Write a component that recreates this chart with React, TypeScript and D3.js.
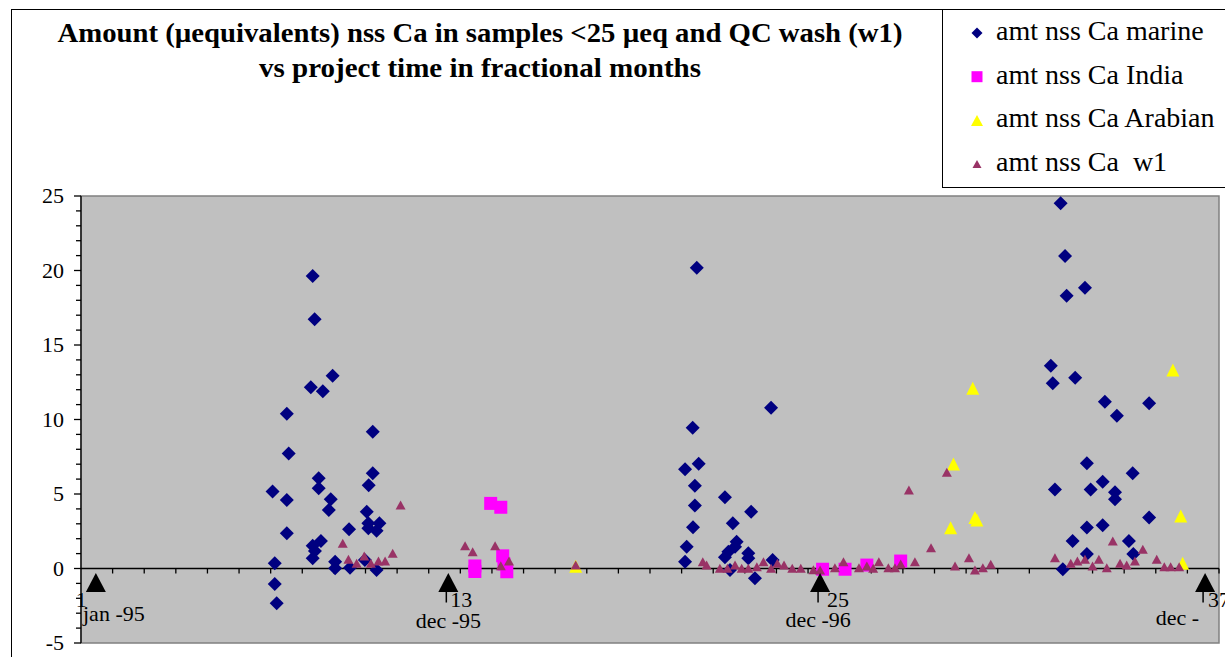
import React from "react";
import * as d3 from "d3";

// ---- data (x = project time in fractional months, y = amount in µeq) ----
const marine: [number, number][] = [
  [7.33, 19.63], [7.39, 16.72], [7.96, 12.94], [7.27, 12.16], [7.65, 11.89], [6.51, 10.39],
  [9.23, 9.18], [6.57, 7.71], [9.23, 6.39], [7.52, 6.05], [9.1, 5.58], [7.52, 5.38],
  [6.06, 5.16], [6.51, 4.6], [7.9, 4.64], [7.84, 3.93], [9.04, 3.81], [8.48, 2.63],
  [6.51, 2.36], [9.09, 3.03], [9.44, 3.03], [9.09, 2.7], [9.35, 2.54], [7.59, 1.85],
  [7.33, 1.53], [7.4, 1.17], [7.33, 0.68], [6.13, 0.35], [8.04, 0.46], [8.04, 0.01],
  [8.51, 0.05], [8.98, 0.57], [9.35, -0.1], [6.13, -1.04], [6.19, -2.34],
  [19.48, 20.19], [21.83, 10.79], [19.35, 9.45], [19.54, 7.03], [19.11, 6.66], [19.42, 5.56],
  [19.42, 4.22], [20.37, 4.78], [21.2, 3.81], [19.36, 2.77], [20.62, 3.03], [20.74, 1.8],
  [20.69, 1.46], [19.16, 1.46], [20.48, 1.13], [21.11, 1.02], [21.11, 0.68], [20.37, 0.75],
  [19.11, 0.46], [21.88, 0.57], [20.53, -0.1], [21.32, -0.66],
  [30.99, 24.51], [31.13, 20.97], [31.76, 18.85], [31.18, 18.31], [30.68, 13.61], [30.74, 12.43],
  [31.45, 12.81], [32.39, 11.19], [33.79, 11.09], [32.77, 10.26], [31.82, 7.06], [33.27, 6.39],
  [32.32, 5.83], [30.81, 5.31], [31.94, 5.31], [32.71, 5.11], [32.71, 4.64], [33.79, 3.43],
  [31.82, 2.76], [32.32, 2.9], [31.37, 1.85], [33.15, 1.85], [31.82, 0.97], [33.29, 0.97],
  [31.06, -0.05],
];

const india: [number, number][] = [
  [12.96, 4.37], [13.28, 4.11], [12.46, 0.17], [12.46, -0.2], [13.34, 0.85], [13.38, 0.3],
  [13.47, -0.21], [23.46, -0.05], [24.17, -0.05], [24.86, 0.23], [25.93, 0.5],
];

const arabian: [number, number][] = [
  [15.65, 0.15], [27.6, 7.01], [27.51, 2.74], [28.28, 3.43], [28.34, 3.26], [28.21, 12.1],
  [34.54, 13.32], [34.79, 3.52], [34.85, 0.35],
];

const w1: [number, number][] = [
  [8.28, 1.69], [8.46, 0.62], [8.72, 0.35], [8.96, 0.84], [9.17, 0.35], [9.41, 0.5],
  [9.62, 0.5], [9.86, 1.02], [10.11, 4.26], [12.15, 1.53], [12.39, 1.13], [13.1, 1.53],
  [13.28, 0.19], [13.54, 0.5], [15.65, 0.23],
  [19.67, 0.46], [19.79, 0.23], [20.21, 0.01], [20.45, 0.01], [20.69, 0.23], [20.9, 0.01],
  [21.11, 0.01], [21.38, 0.12], [21.59, 0.46], [21.83, 0.01], [22.03, 0.35], [22.24, 0.23],
  [22.5, 0.01], [22.77, 0.01], [23.17, -0.08], [23.38, -0.1], [23.85, 0.05], [24.12, 0.46],
  [24.61, 0.05], [24.86, 0.17], [25.06, 0.01], [25.24, 0.46], [25.54, 0.05], [25.75, 0.05],
  [25.93, 0.3], [26.38, 0.46], [26.19, 5.27], [26.89, 1.4], [27.39, 6.46], [27.65, 0.17],
  [28.09, 0.72], [28.28, -0.1], [28.53, 0.05], [28.78, 0.28],
  [30.81, 0.72], [31.31, 0.35], [31.52, 0.5], [31.76, 0.62], [32.0, 0.17], [32.2, 0.62],
  [32.45, 0.05], [32.64, 1.85], [32.87, 0.35], [33.08, 0.23], [33.34, 0.5], [33.59, 1.29],
  [34.03, 0.62], [34.27, 0.12], [34.47, 0.12], [34.74, 0.12],
];

// month markers (arrows) with their labels
const markerX = [0.47, 11.62, 23.38, 35.56];
const markerY = -0.94;
const markerNum = ["1", "13", "25", "37"];
const markerMonth = ["jan -95", "dec -95", "dec -96", "dec -"];

const yMajorTicks = [-5, 0, 5, 10, 15, 20, 25];
const legendLabels = ["amt nss Ca marine", "amt nss Ca India", "amt nss Ca Arabian", "amt nss Ca  w1"];
const titleLines = [
  "Amount (µequivalents) nss Ca in samples <25 µeq and QC wash (w1)",
  "vs project time in fractional months",
];

// ---- layout ----
const W = 1225;
const H = 657;
const P = { left: 81, right: 1219, top: 196, bottom: 643 };
const FONT = "'Liberation Serif', 'Times New Roman', serif";
const titleWidths = [845, 442];

const COL = {
  marine: "#000080",
  india: "#FF00FF",
  arabian: "#FFFF00",
  w1: "#993366",
  plot: "#C0C0C0",
};

const diamond = (cx: number, cy: number, r: number) =>
  `M${cx},${cy - r}L${cx + r},${cy}L${cx},${cy + r}L${cx - r},${cy}Z`;
const square = (cx: number, cy: number, s: number) =>
  `M${cx - s / 2},${cy - s / 2}h${s}v${s}h${-s}Z`;
const tri = (cx: number, cy: number, w: number, h: number) =>
  `M${cx},${cy - h / 2}L${cx + w / 2},${cy + h / 2}L${cx - w / 2},${cy + h / 2}Z`;

export default function App() {
  const x = d3.scaleLinear().domain([0, 36]).range([P.left, P.right]);
  const y = d3.scaleLinear().domain([-5, 25]).range([P.bottom, P.top]);
  const y0 = y(0);
  const xTicks = x.ticks(36).filter((t) => t > 0);
  const yMinor = d3.range(-5, 26, 1).filter((v) => !yMajorTicks.includes(v));

  const monthAnchor: ("start" | "middle" | "end")[] = ["start", "middle", "middle", "end"];
  const monthDx = [-13, 0, -2, -6];
  const numDx = [-20, 2, 7, 3];
  const monthBase = [621, 628, 627, 625];

  return (
    <svg
      width={W}
      height={H}
      style={{ position: "absolute", left: 0, top: 0, background: "#fff" }}
      fontFamily={FONT}
    >
      <rect x={11.5} y={9.5} width={1400} height={800} fill="#fff" stroke="#000" strokeWidth={1} />

      {titleLines.map((t, i) => (
        <text
          key={i}
          x={480}
          y={42 + i * 35}
          textAnchor="middle"
          fontSize={28}
          fontWeight="bold"
          fill="#000"
          textLength={titleWidths[i]}
          lengthAdjust="spacingAndGlyphs"
        >
          {t}
        </text>
      ))}

      {/* plot area */}
      <rect
        x={P.left}
        y={P.top}
        width={P.right - P.left}
        height={P.bottom - P.top}
        fill={COL.plot}
        stroke="#808080"
        strokeWidth={1.5}
      />

      {/* y axis */}
      <line x1={P.left} x2={P.left} y1={P.top} y2={P.bottom} stroke="#000" strokeWidth={1.3} />
      {yMajorTicks.map((v) => (
        <g key={"ym" + v}>
          <line x1={P.left - 7} x2={P.left} y1={y(v)} y2={y(v)} stroke="#000" strokeWidth={1.3} />
          <text x={64} y={y(v) + 7} textAnchor="end" fontSize={22} fill="#000">
            {v}
          </text>
        </g>
      ))}
      {yMinor.map((v) => (
        <line key={"yn" + v} x1={P.left - 5} x2={P.left} y1={y(v)} y2={y(v)} stroke="#000" strokeWidth={1.3} />
      ))}

      {/* x axis at 0 */}
      <line x1={P.left} x2={P.right} y1={y0} y2={y0} stroke="#000" strokeWidth={1.3} />
      {xTicks.map((t) => (
        <line key={"xt" + t} x1={x(t)} x2={x(t)} y1={y0} y2={y0 + 5} stroke="#000" strokeWidth={1.3} />
      ))}

      {/* series */}
      {marine.map(([a, b], i) => (
        <path key={"m" + i} d={diamond(x(a), y(b), 7)} fill={COL.marine} />
      ))}
      {india.map(([a, b], i) => (
        <path key={"i" + i} d={square(x(a), y(b), 13)} fill={COL.india} />
      ))}
      {arabian.map(([a, b], i) => (
        <path key={"a" + i} d={tri(x(a), y(b), 13, 13)} fill={COL.arabian} />
      ))}
      {w1.map(([a, b], i) => (
        <path key={"w" + i} d={tri(x(a), y(b), 10, 9)} fill={COL.w1} />
      ))}

      {/* month markers */}
      {markerX.map((mx, i) => {
        const cx = x(mx);
        const cy = y(markerY);
        return (
          <g key={"mk" + i}>
            <path d={tri(cx, cy, 20, 19)} fill="#000" />
            {i > 0 && (
              <line x1={cx - 2} x2={cx - 2} y1={cy + 9} y2={cy + 20} stroke="#000" strokeWidth={1.5} />
            )}
            <text x={cx + numDx[i]} y={607} fontSize={22} fill="#000">
              {markerNum[i]}
            </text>
            <text
              x={i === 0 ? P.left + 2 : cx + monthDx[i]}
              y={monthBase[i]}
              textAnchor={monthAnchor[i]}
              fontSize={22}
              fill="#000"
            >
              {markerMonth[i]}
            </text>
          </g>
        );
      })}

      {/* legend */}
      <rect x={942.5} y={9.5} width={400} height={178} fill="#fff" stroke="#000" strokeWidth={1} />
      {legendLabels.map((lab, i) => {
        const cy = 33 + i * 43.7;
        const cx = 977;
        let mk;
        if (i === 0) mk = <path d={diamond(cx, cy, 5.5)} fill={COL.marine} />;
        else if (i === 1) mk = <path d={square(cx, cy, 11)} fill={COL.india} />;
        else if (i === 2) mk = <path d={tri(cx, cy, 12, 11)} fill={COL.arabian} />;
        else mk = <path d={tri(cx, cy, 9, 8)} fill={COL.w1} />;
        return (
          <g key={"lg" + i}>
            {mk}
            <text x={996} y={cy + 7} fontSize={28} fill="#000" style={{ whiteSpace: "pre" }}>
              {lab}
            </text>
          </g>
        );
      })}
    </svg>
  );
}
